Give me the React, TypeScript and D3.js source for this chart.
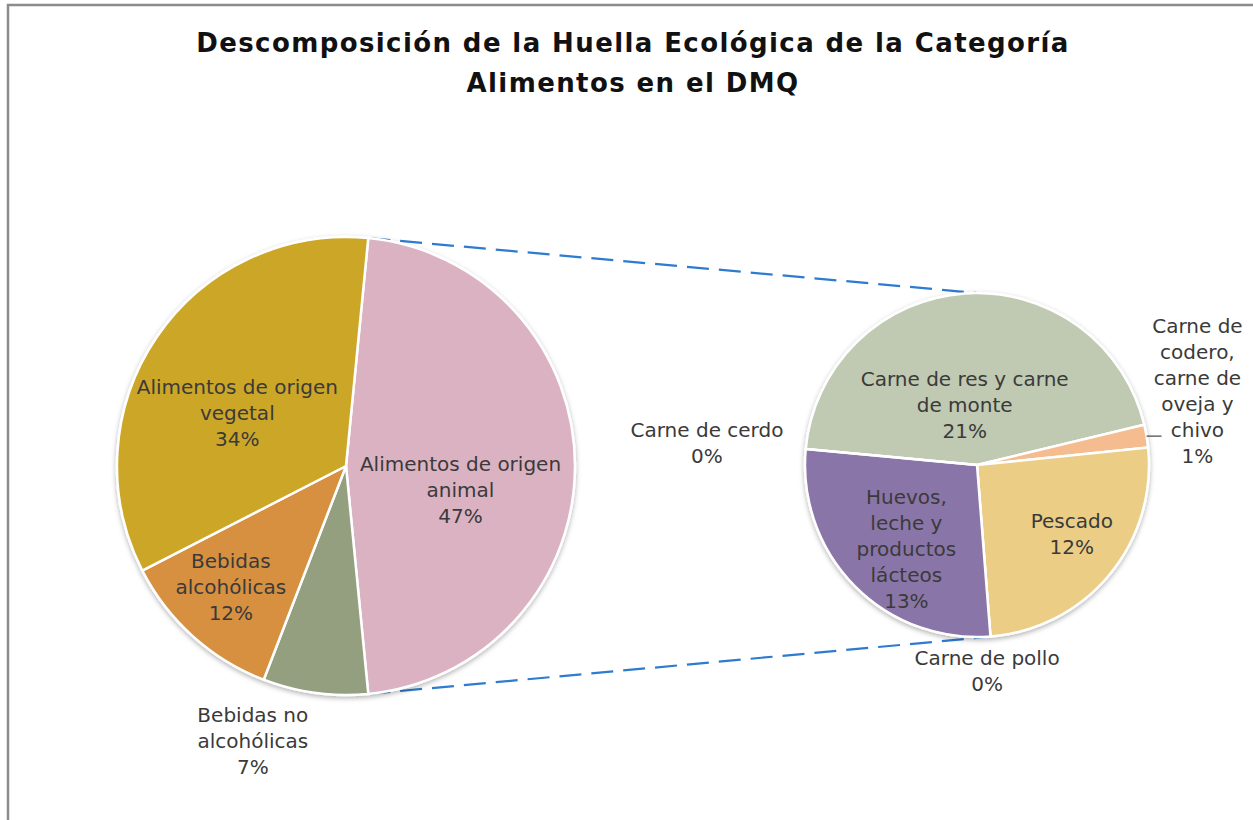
import * as d3 from "d3";

// main pie (clockwise from the split slice)
const mainNames = ["Alimentos de origen animal", "Bebidas no alcohólicas", "Bebidas alcohólicas", "Alimentos de origen vegetal"];
const mainValues = [46.9, 7.4, 11.6, 34.1];
const mainColors = ["#DBB2C1", "#949F80", "#D6903F", "#CCA626"];

// secondary pie = breakdown of "Alimentos de origen animal"
const subNames = ["Carne de res y carne de monte", "Carne de codero, carne de oveja y chivo", "Pescado", "Carne de pollo", "Huevos, leche y productos lácteos", "Carne de cerdo"];
const subValues = [21.0, 1.0, 11.9, 0, 13.0, 0];
const subColors = ["#C0C9B1", "#F4BC8F", "#EBCD86", "#A9BCD8", "#8A74A8", "#9BB7A0"];

// how each label wraps (matches the picture)
const labelLines: Record<string, string[]> = {
  "Alimentos de origen animal": ["Alimentos de origen", "animal"],
  "Bebidas no alcohólicas": ["Bebidas no", "alcohólicas"],
  "Bebidas alcohólicas": ["Bebidas", "alcohólicas"],
  "Alimentos de origen vegetal": ["Alimentos de origen", "vegetal"],
  "Carne de res y carne de monte": ["Carne de res y carne", "de monte"],
  "Carne de codero, carne de oveja y chivo": ["Carne de", "codero,", "carne de", "oveja y", "chivo"],
  "Pescado": ["Pescado"],
  "Carne de pollo": ["Carne de pollo"],
  "Huevos, leche y productos lácteos": ["Huevos,", "leche y", "productos", "lácteos"],
  "Carne de cerdo": ["Carne de cerdo"],
};

// label placement: radius fraction + nudge
const labelPos: Record<string, { k: number; dx: number; dy: number }> = {
  "Alimentos de origen animal": { k: 0.5, dx: 0, dy: 24 },
  "Bebidas no alcohólicas": { k: 1.27, dx: -54, dy: -13 },
  "Bebidas alcohólicas": { k: 0.7, dx: -8, dy: 2 },
  "Alimentos de origen vegetal": { k: 0.5, dx: -14, dy: 11 },
  "Carne de res y carne de monte": { k: 0.35, dx: -8, dy: 0 },
  "Carne de codero, carne de oveja y chivo": { k: 1.3, dx: 0, dy: -36 },
  "Pescado": { k: 0.65, dx: 9, dy: -3 },
  "Carne de pollo": { k: 1.2, dx: -6, dy: 0 },
  "Huevos, leche y productos lácteos": { k: 0.65, dx: 9, dy: 6 },
  "Carne de cerdo": { k: 1.6, dx: 4, dy: 3 },
};

const W = 1253;
const H = 820;
const MAIN = { cx: 346, cy: 466, r: 229 };
const SUB = { cx: 977, cy: 465, r: 172 };
const SUB_START = (-84.7 * Math.PI) / 180;
const FONT = "'DejaVu Sans', sans-serif";
const LINE_H = 26;
const TEXT_COLOR = "#3a3a3a";

type Slice = d3.PieArcDatum<number> & { name: string; color: string; pct: number };

function Labels({ slices, cx, cy, r }: { slices: Slice[]; cx: number; cy: number; r: number }) {
  return (
    <g fontFamily={FONT} fontSize={20} fill={TEXT_COLOR} textAnchor="middle">
      {slices.map((s) => {
        const p = labelPos[s.name];
        const [x, y] = d3.arc<any>().innerRadius(r * p.k).outerRadius(r * p.k).centroid(s);
        const lines = [...labelLines[s.name], `${Math.round(s.pct)}%`];
        const top = cy + y + p.dy - ((lines.length - 1) * LINE_H) / 2;
        return (
          <text key={s.name} x={cx + x + p.dx} y={top + 7}>
            {lines.map((l, i) => (
              <tspan key={i} x={cx + x + p.dx} dy={i === 0 ? 0 : LINE_H}>
                {l}
              </tspan>
            ))}
          </text>
        );
      })}
    </g>
  );
}

export default function App() {
  const mainTotal = d3.sum(mainValues);
  const splitAngle = (mainValues[0] / mainTotal) * 2 * Math.PI;
  const mainStart = Math.PI / 2 - splitAngle / 2;

  const mainPie = d3.pie<number>().sort(null).startAngle(mainStart).endAngle(mainStart + 2 * Math.PI);
  const mainSlices: Slice[] = mainPie(mainValues).map((d, i) => ({
    ...d,
    name: mainNames[i],
    color: mainColors[i],
    pct: (mainValues[i] / mainTotal) * 100,
  }));

  const subPie = d3.pie<number>().sort(null).startAngle(SUB_START).endAngle(SUB_START + 2 * Math.PI);
  const subSlices: Slice[] = subPie(subValues).map((d, i) => ({
    ...d,
    name: subNames[i],
    color: subColors[i],
    pct: (subValues[i] / mainTotal) * 100,
  }));

  const mainArc = d3.arc<Slice>().innerRadius(0).outerRadius(MAIN.r);
  const subArc = d3.arc<Slice>().innerRadius(0).outerRadius(SUB.r);

  // connector lines from the split slice edges to the top/bottom of the secondary pie
  const split = mainSlices[0];
  const pt = (a: number, r: number, cx: number, cy: number) => [cx + r * Math.sin(a), cy - r * Math.cos(a)];
  const [ax, ay] = pt(split.startAngle, MAIN.r, MAIN.cx, MAIN.cy);
  const [bx, by] = pt(split.endAngle, MAIN.r, MAIN.cx, MAIN.cy);

  // small leader for the 1% slice
  const cordero = subSlices[1];
  const midC = (cordero.startAngle + cordero.endAngle) / 2;
  const [lx, ly] = pt(midC, SUB.r, SUB.cx, SUB.cy);

  return (
    <div style={{ position: "absolute", left: 0, top: 0 }}>
      <svg width={W} height={H} style={{ display: "block", background: "#fff" }}>
        <defs>
          <filter id="shadow" x="-10%" y="-10%" width="120%" height="120%">
            <feDropShadow dx="0" dy="2" stdDeviation="2.5" floodColor="#000" floodOpacity="0.3" />
          </filter>
        </defs>

        <path d={`M8,${H} V5 H${W}`} fill="none" stroke="#8c8c8c" strokeWidth={2.5} />

        <g fontFamily={FONT} fontWeight="bold" fontSize={26} letterSpacing={1.4} fill="#111" textAnchor="middle">
          <text x={633} y={52}>Descomposición de la Huella Ecológica de la Categoría</text>
          <text x={633} y={92}>Alimentos en el DMQ</text>
        </g>

        <g stroke="#2E7BCF" strokeWidth={2.2} strokeDasharray="22 10" fill="none">
          <line x1={ax} y1={ay} x2={SUB.cx} y2={SUB.cy - SUB.r} />
          <line x1={bx} y1={by} x2={SUB.cx + 10} y2={SUB.cy + SUB.r} />
        </g>

        <g transform={`translate(${MAIN.cx},${MAIN.cy})`} filter="url(#shadow)">
          {mainSlices.map((s) => (
            <path key={s.name} d={mainArc(s) || ""} fill={s.color} stroke="#fff" strokeWidth={2.5} strokeLinejoin="round" />
          ))}
        </g>

        <g transform={`translate(${SUB.cx},${SUB.cy})`} filter="url(#shadow)">
          {subSlices.map((s) => (
            <path key={s.name} d={subArc(s) || ""} fill={s.color} stroke="#fff" strokeWidth={2.5} strokeLinejoin="round" />
          ))}
        </g>

        <line x1={lx} y1={ly} x2={lx + 15} y2={ly} stroke="#444" strokeWidth={1.2} />

        <Labels slices={mainSlices} cx={MAIN.cx} cy={MAIN.cy} r={MAIN.r} />
        <Labels slices={subSlices} cx={SUB.cx} cy={SUB.cy} r={SUB.r} />
      </svg>
    </div>
  );
}
